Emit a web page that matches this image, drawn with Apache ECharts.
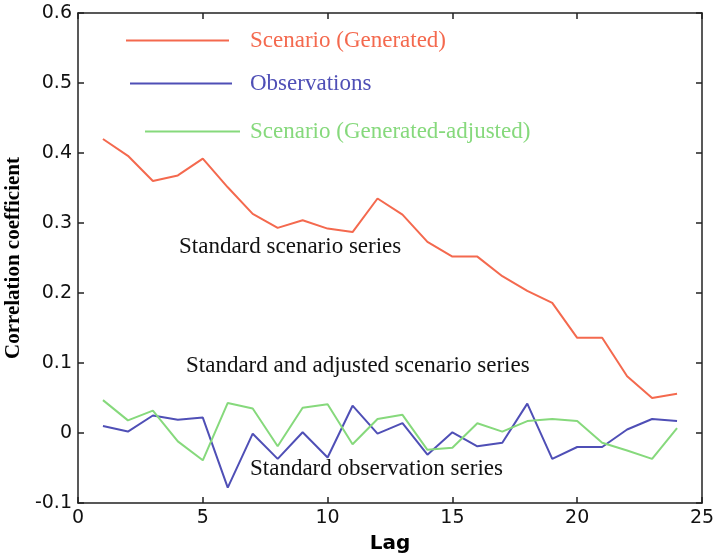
<!DOCTYPE html>
<html>
<head>
<meta charset="utf-8">
<script src="https://cdn.jsdelivr.net/npm/echarts@6/dist/echarts.min.js"></script>
<style>html,body{margin:0;padding:0;background:#fff}#c{width:714px;height:555px}</style>
</head>
<body>
<div id="c"></div>
<script>
var lags = [1,2,3,4,5,6,7,8,9,10,11,12,13,14,15,16,17,18,19,20,21,22,23,24];
var generated = [0.420,0.396,0.360,0.368,0.392,0.351,0.313,0.293,0.304,0.292,0.287,0.335,0.312,0.273,0.252,0.252,0.224,0.203,0.186,0.136,0.136,0.081,0.050,0.056];
var observations = [0.010,0.002,0.025,0.019,0.022,-0.078,-0.001,-0.037,0.001,-0.035,0.039,-0.001,0.014,-0.031,0.001,-0.019,-0.014,0.042,-0.037,-0.020,-0.020,0.005,0.020,0.017];
var adjusted = [0.047,0.018,0.032,-0.012,-0.039,0.043,0.035,-0.019,0.036,0.041,-0.016,0.020,0.026,-0.024,-0.021,0.014,0.002,0.017,0.020,0.017,-0.014,-0.025,-0.037,0.007];
var seriesNames = ['Scenario (Generated)','Observations','Scenario (Generated-adjusted)'];
var xTicks = [0,5,10,15,20,25];
var yTicks = [-0.1,0,0.1,0.2,0.3,0.4,0.5,0.6];
var annotations = ['Standard scenario series','Standard and adjusted scenario series','Standard observation series'];

function pairs(vals){ return lags.map(function(l,i){ return [l, vals[i]]; }); }
var colors = ['#f4694e','#4f4fb6','#86d97c'];
var serif = '"Liberation Serif", "Times New Roman", serif';
var sans = '"DejaVu Sans", Arial, sans-serif';

function fmtY(v){ if (Math.abs(v) < 1e-9) return '0'; return (Math.round(v*10)/10).toString(); }

function axisCommon(){
  return {
    axisLine: {show: true, onZero: false, lineStyle: {color: '#222', width: 1.5}},
    axisTick: {show: true, inside: true, length: 6, lineStyle: {color: '#222', width: 1.5}},
    splitLine: {show: false}
  };
}

function legendFor(i, left, top, width, pad){
  return {
    data: [seriesNames[i]], left: left, top: top, padding: 0, orient: 'horizontal',
    icon: 'rect', itemWidth: width, itemHeight: 2, selectedMode: false,
    textStyle: {color: colors[i], fontFamily: serif, fontSize: 23, padding: [4,0,0,pad]}
  };
}

var chart = echarts.init(document.getElementById('c'), null, {renderer: 'canvas'});
chart.setOption({
  animation: false,
  backgroundColor: '#fff',
  grid: {left: 78, top: 13, right: 12, bottom: 52, containLabel: false, outerBoundsMode: 'none'},
  legend: [
    legendFor(0, 126, 29, 103, 16),
    legendFor(1, 130, 72, 102, 13),
    legendFor(2, 145, 120, 95, 5)
  ],
  xAxis: [
    Object.assign({type: 'value', position: 'bottom', min: xTicks[0], max: xTicks[xTicks.length-1], interval: 5,
      name: 'Lag', nameLocation: 'middle', nameGap: 31,
      nameTextStyle: {fontFamily: sans, fontWeight: 'bold', fontSize: 20, color: '#000'},
      axisLabel: {fontFamily: sans, fontSize: 19, color: '#111', margin: 6}}, axisCommon()),
    Object.assign({type: 'value', position: 'top', min: xTicks[0], max: xTicks[xTicks.length-1], interval: 5,
      axisLabel: {show: false}}, axisCommon())
  ],
  yAxis: [
    Object.assign({type: 'value', position: 'left', min: yTicks[0], max: yTicks[yTicks.length-1], interval: 0.1,
      name: 'Correlation coefficient', nameLocation: 'middle', nameGap: 52, nameRotate: 90,
      nameTextStyle: {fontFamily: serif, fontWeight: 'bold', fontSize: 21, color: '#000'},
      axisLabel: {fontFamily: sans, fontSize: 19, color: '#111', margin: 6, formatter: fmtY}}, axisCommon()),
    Object.assign({type: 'value', position: 'right', min: yTicks[0], max: yTicks[yTicks.length-1], interval: 0.1,
      axisLabel: {show: false}}, axisCommon())
  ],
  series: [
    {name: seriesNames[0], type: 'line', data: pairs(generated), showSymbol: false, symbol: 'none',
      lineStyle: {color: colors[0], width: 2}, itemStyle: {color: colors[0]}},
    {name: seriesNames[1], type: 'line', data: pairs(observations), showSymbol: false, symbol: 'none',
      lineStyle: {color: colors[1], width: 2}, itemStyle: {color: colors[1]}},
    {name: seriesNames[2], type: 'line', data: pairs(adjusted), showSymbol: false, symbol: 'none',
      lineStyle: {color: colors[2], width: 2}, itemStyle: {color: colors[2]}}
  ],
  graphic: [
    {type: 'text', left: 179, top: 235, style: {text: annotations[0], font: '23px ' + serif, fill: '#111'}},
    {type: 'text', left: 186, top: 354, style: {text: annotations[1], font: '23px ' + serif, fill: '#111'}},
    {type: 'text', left: 250, top: 457, style: {text: annotations[2], font: '23px ' + serif, fill: '#111'}}
  ]
});
</script>
</body>
</html>
